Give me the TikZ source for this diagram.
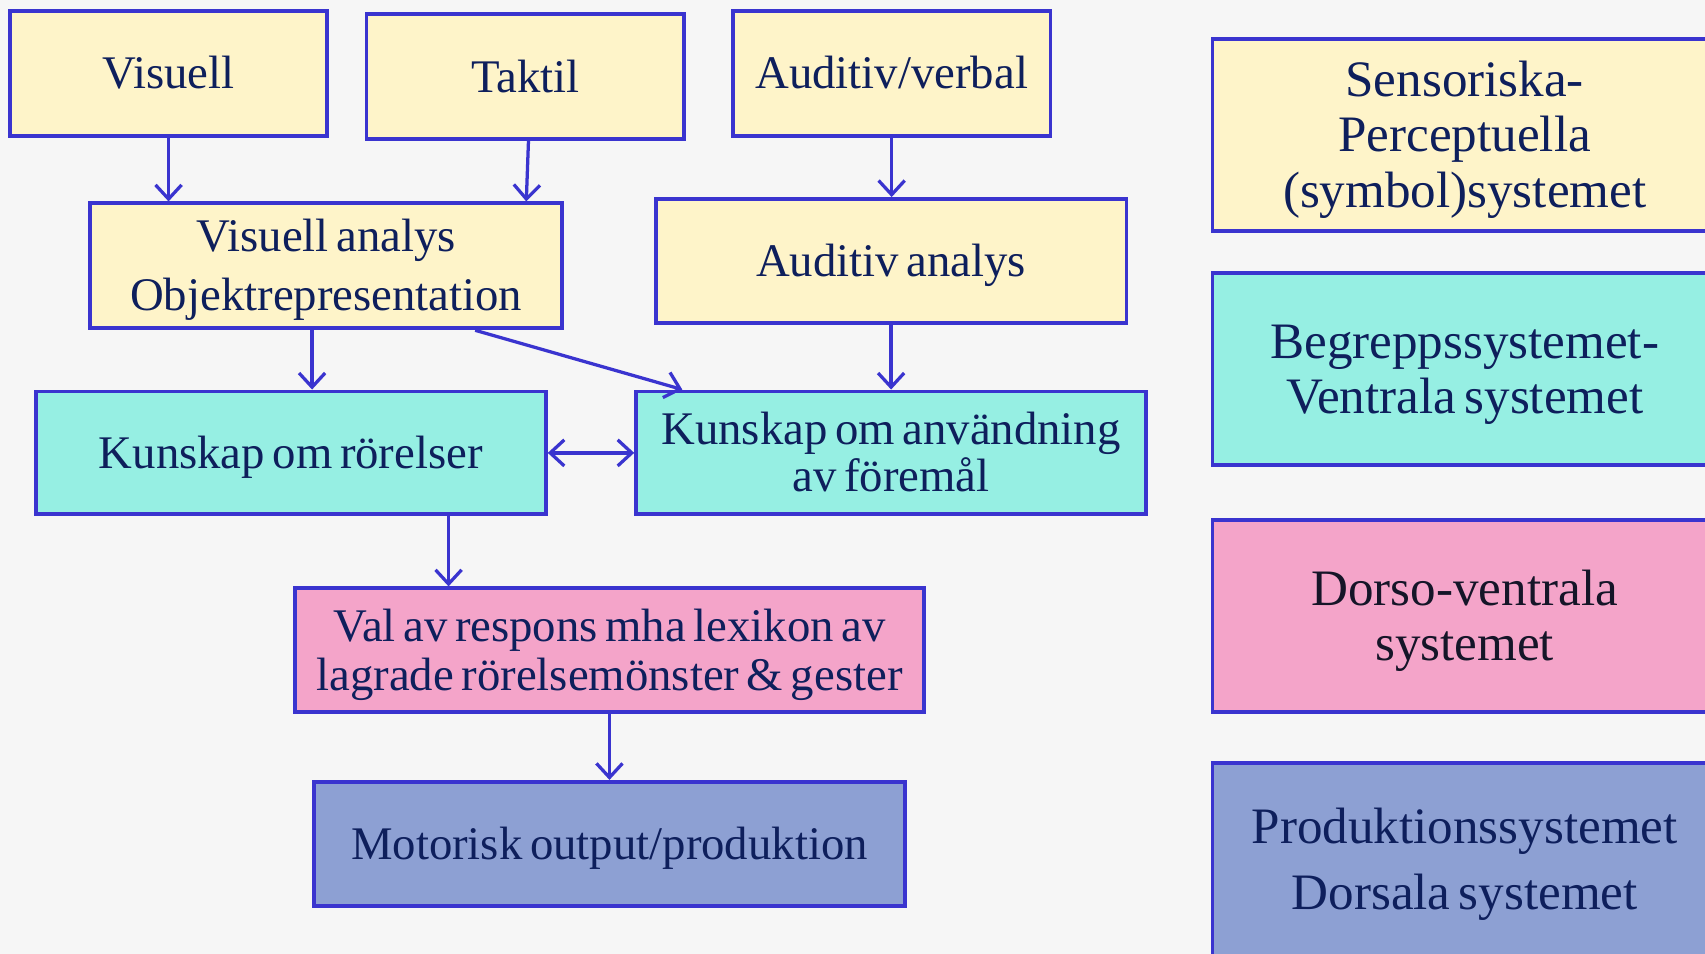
\documentclass[tikz,border=0pt]{standalone}
\usepackage{fontspec}
\setmainfont{Liberation Serif}[WordSpace=0.65]
\usetikzlibrary{arrows.meta}
\definecolor{bordc}{HTML}{3A34CF}
\definecolor{yel}{HTML}{FEF4C9}
\definecolor{cyn}{HTML}{96EFE3}
\definecolor{pnk}{HTML}{F4A4C9}
\definecolor{blu}{HTML}{8DA0D3}
\definecolor{txt}{HTML}{0E1F5C}
\definecolor{txtdark}{HTML}{151528}
\definecolor{bg}{HTML}{F6F6F6}
\newcommand{\tp}{\rule{0pt}{0.88em}}
\newcommand{\bt}{\rule[-0.22em]{0pt}{0pt}}
\begin{document}
\begin{tikzpicture}[x=1pt,y=-1pt,
  box/.style={draw=bordc, line width=3.5pt, rectangle, inner sep=0pt, align=center, text=txt, font=\fontsize{43}{50}\selectfont},
  bigbox/.style={box, font=\fontsize{47}{51}\selectfont, minimum width=464pt, minimum height=177pt},
  arr/.style={draw=bordc, line width=3pt, line join=round, -{Straight Barb[length=13pt,width=24pt]}},
  darr/.style={draw=bordc, line width=3pt, line join=round, {Straight Barb[length=13pt,width=24pt]}-{Straight Barb[length=13pt,width=24pt]}}]
\useasboundingbox (0,0) rectangle (1568,877);
\clip (0,0) rectangle (1568,877);
\fill[bg] (0,0) rectangle (1568,877);

% left diagram
\node[box, fill=yel, minimum width=292pt, minimum height=115pt] (vis) at (155,67.5) {\tp Visuell\bt};
\node[box, fill=yel, minimum width=292pt, minimum height=115pt] (tak) at (483,70.5) {\tp Taktil\bt};
\node[box, fill=yel, minimum width=292pt, minimum height=115pt] (aud) at (820,67.5) {\tp Auditiv/verbal\bt};
\node[box, fill=yel, minimum width=434pt, minimum height=115pt, font=\fontsize{43}{54}\selectfont] (va) at (300,244.5) {\tp Visuell analys\\Objektrepresentation\bt};
\node[box, fill=yel, minimum width=433pt, minimum height=114pt] (aa) at (819.5,240) {\tp Auditiv analys\bt};
\node[box, fill=cyn, minimum width=469pt, minimum height=113pt] (kr) at (267.5,416.5) {\tp Kunskap om rörelser\bt};
\node[box, fill=cyn, minimum width=469pt, minimum height=113pt, font=\fontsize{43}{43}\selectfont] (ka) at (819.5,416.5) {\tp Kunskap om användning\\av föremål\bt};
\node[box, fill=pnk, minimum width=579pt, minimum height=114pt, font=\fontsize{43}{45}\selectfont] (val) at (560.5,598) {\tp Val av respons mha lexikon av\\lagrade rörelsemönster \& gester\bt};
\node[box, fill=blu, minimum width=543pt, minimum height=114pt] (mot) at (560.5,776) {\tp Motorisk output/produktion\bt};

% legend boxes
\node[bigbox, fill=yel] (sen) at (1347,124) {\tp Sensoriska-\\Perceptuella\\(symbol)systemet\bt};
\node[bigbox, fill=cyn] (beg) at (1347,339.5) {\tp Begreppssystemet-\\Ventrala systemet\bt};
\node[bigbox, fill=pnk, text=txtdark] (dor) at (1347,566.5) {\tp Dorso-ventrala\\systemet\bt};
\node[bigbox, fill=blu, font=\fontsize{47}{61}\selectfont] (pro) at (1347,790.5) {\tp Produktionssystemet\\Dorsala systemet\bt};

% connectors
\draw[arr] (vis.south) -- (vis.south |- va.north);
\draw[arr] ([xshift=3pt]tak.south) -- ([xshift=1pt]tak.south |- va.north);
\draw[arr] (aud.south) -- (aud.south |- aa.north);
\draw[arr] ([xshift=-13pt]va.south) -- ([xshift=-13pt]va.south |- kr.north);
\draw[arr] ([xshift=137pt]va.south) -- ([xshift=-192pt]ka.north);
\draw[arr] (aa.south) -- (aa.south |- ka.north);
\draw[darr] (kr.east) -- (ka.west);
\draw[arr] ([xshift=145pt]kr.south) -- ([xshift=145pt]kr.south |- val.north);
\draw[arr] (val.south) -- (mot.north);
\end{tikzpicture}
\end{document}
